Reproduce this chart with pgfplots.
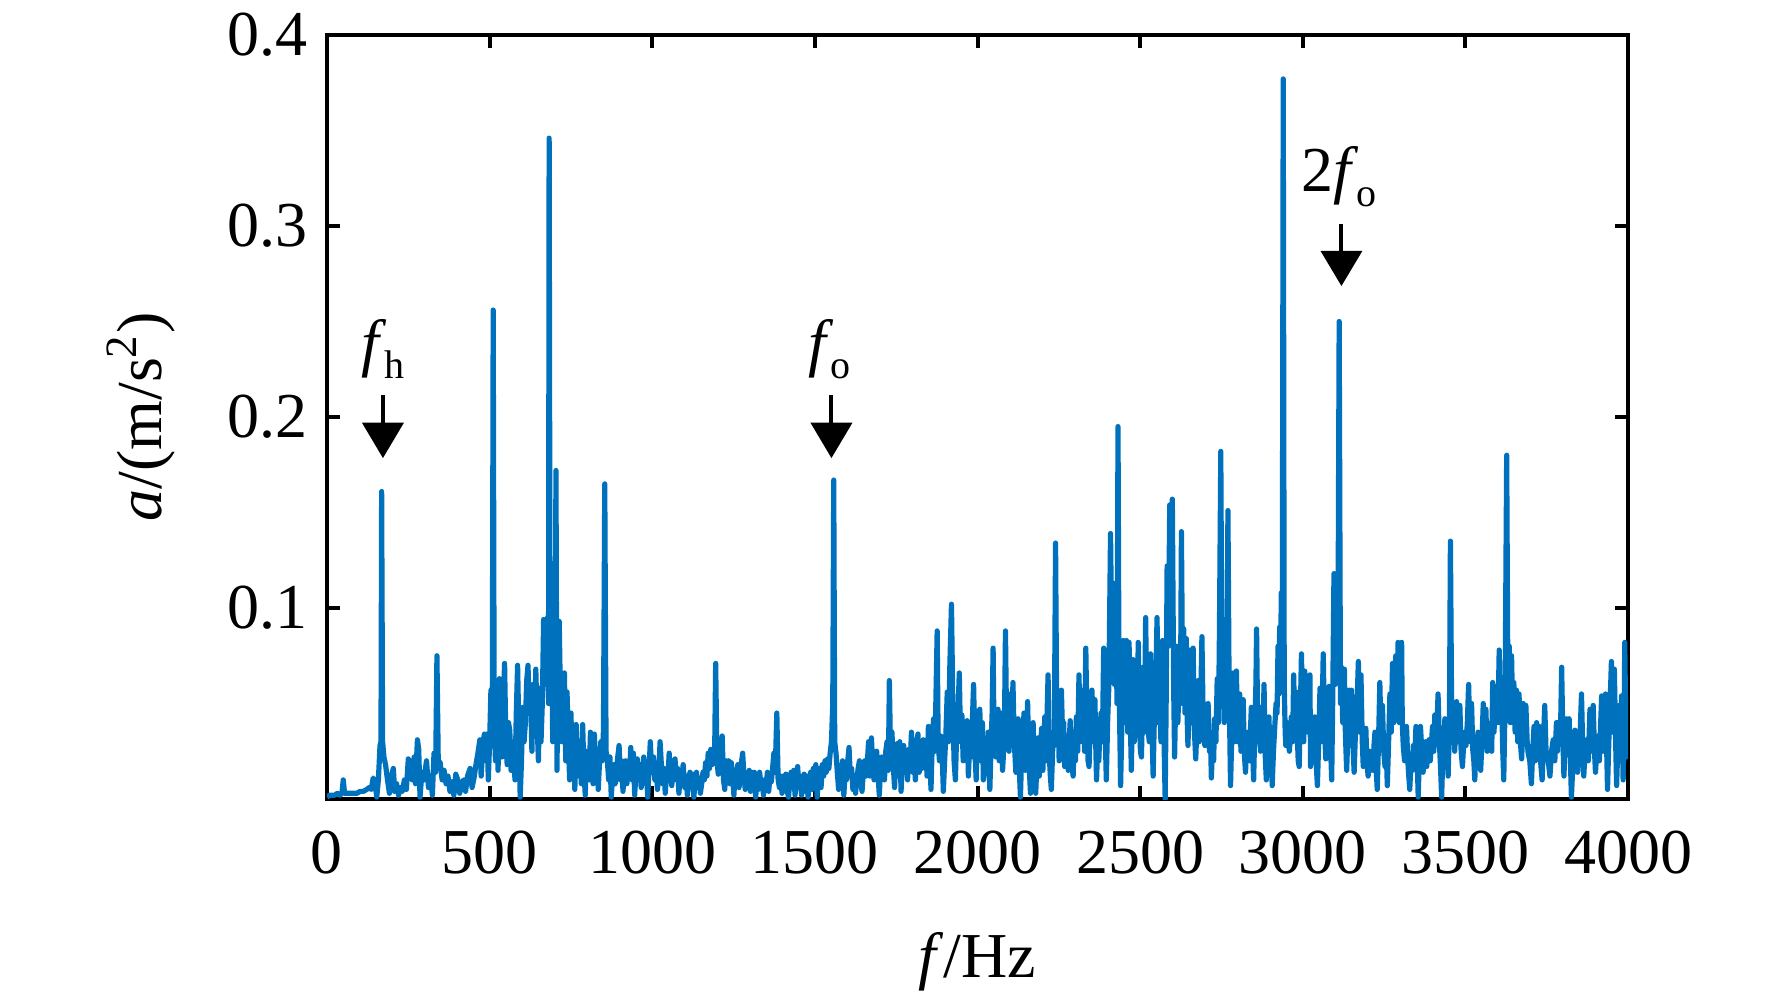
\documentclass[border=0pt]{standalone}
\usepackage{fontspec}
\setmainfont{Liberation Serif}
\usepackage{pgfplots}
\pgfplotsset{compat=1.18}
\definecolor{mblue}{RGB}{0,114,189}
\newcommand\sub[1]{\kern-0.6pt\raisebox{-3.6pt}{\fontsize{10}{11}\selectfont #1}}
\begin{document}
\begin{tikzpicture}
\useasboundingbox (-81.75pt,-49pt) rectangle (361.25pt,199.75pt);
\begin{axis}[
  scale only axis, width=325.25pt, height=191pt,
  xmin=0, xmax=4000, ymin=0, ymax=0.4,
  xtick={0,500,...,4000}, ytick={0.1,0.2,0.3,0.4},
  tick align=inside, xtick pos=both, ytick pos=both,
  major tick length=3.3pt,
  every tick/.style={black, line width=1pt},
  axis line style={line width=1pt},
  tick label style={font=\fontsize{16}{19}\selectfont},
  /pgf/number format/assume math mode=true,
  /pgf/number format/1000 sep={},
  scaled ticks=false,
  yticklabel style={/pgf/number format/fixed, /pgf/number format/precision=1, anchor=east, xshift=-1.4pt},
  xticklabel style={anchor=base, yshift=-18.5pt},
  label style={font=\fontsize{16}{19}\selectfont},
  xlabel={\textit{f}/Hz},
  xlabel style={at={(axis description cs:0.5,-0.233)}, anchor=base},
  ylabel={\textit{a}/(m/s\textsuperscript{2})},
  ylabel style={at={(axis description cs:-0.143,0.5)}, anchor=center},
]
\addplot[mblue, line width=1.3pt, line join=round] coordinates {
(0,0.001)(8,0.002)(16,0.002)(24,0.002)(32,0.003)(40,0.002)(46,0.003)(50,0.010)(54,0.003)(62,0.003)(72,0.003)(82,0.003)(92,0.003)(102,0.004)(112,0.004)(122,0.005)(130,0.006)(136,0.005)(142,0.011)(148,0.008)(153,0.001)(158,0.010)(163,0.028)(166,0.030)(168,0.161)(171,0.030)(175,0.022)(180,0.018)(186,0.010)(192,0.003)(198,0.012)(204,0.016)(208,0.004)(214,0.008)(220,0.002)(226,0.006)(232,0.004)(238,0.010)(244,0.005)(250,0.021)(256,0.018)(262,0.010)(268,0.022)(272,0.008)(278,0.031)(282,0.026)(286,0.001)(292,0.014)(298,0.010)(306,0.020)(312,0.006)(318,0.012)(324,0.002)(329,0.024)(334,0.014)(338,0.075)(342,0.020)(348,0.019)(354,0.010)(360,0.015)(366,0.008)(372,0.012)(378,0.004)(384,0.009)(390,0.002)(396,0.013)(402,0.010)(408,0.003)(414,0.008)(420,0.010)(426,0.004)(432,0.012)(440,0.016)(446,0.006)(452,0.011)(458,0.018)(464,0.024)(470,0.031)(474,0.012)(480,0.030)(484,0.034)(488,0.020)(492,0.034)(496,0.010)(500,0.030)(504,0.057)(508,0.030)(511,0.256)(514,0.040)(518,0.020)(522,0.045)(526,0.015)(530,0.063)(534,0.040)(538,0.022)(542,0.050)(546,0.071)(550,0.030)(554,0.018)(558,0.040)(562,0.036)(566,0.015)(570,0.030)(574,0.022)(578,0.010)(582,0.045)(586,0.070)(590,0.035)(594,0.001)(598,0.020)(602,0.048)(606,0.030)(610,0.040)(614,0.062)(618,0.070)(622,0.045)(626,0.055)(630,0.025)(634,0.060)(638,0.037)(642,0.068)(646,0.040)(650,0.020)(654,0.058)(658,0.030)(662,0.050)(666,0.094)(670,0.060)(674,0.078)(678,0.095)(681,0.050)(683,0.346)(686,0.060)(690,0.094)(694,0.030)(698,0.085)(701,0.055)(704,0.172)(707,0.015)(710,0.060)(714,0.093)(718,0.050)(722,0.030)(726,0.040)(730,0.066)(734,0.020)(738,0.056)(742,0.030)(746,0.010)(750,0.045)(754,0.018)(758,0.030)(762,0.005)(766,0.039)(770,0.020)(774,0.012)(778,0.030)(782,0.008)(786,0.039)(790,0.015)(794,0.002)(798,0.025)(802,0.020)(806,0.010)(810,0.035)(814,0.020)(818,0.008)(822,0.034)(826,0.018)(830,0.022)(834,0.005)(838,0.020)(842,0.030)(846,0.020)(850,0.036)(854,0.165)(858,0.025)(862,0.020)(866,0.010)(870,0.022)(874,0.001)(878,0.012)(882,0.018)(886,0.008)(890,0.015)(894,0.022)(898,0.028)(902,0.010)(906,0.020)(910,0.004)(914,0.014)(918,0.020)(922,0.008)(926,0.018)(930,0.012)(934,0.027)(938,0.010)(942,0.024)(946,0.002)(950,0.014)(954,0.021)(958,0.010)(962,0.018)(966,0.006)(970,0.014)(974,0.022)(978,0.008)(982,0.016)(986,0.001)(990,0.015)(994,0.030)(998,0.014)
(1000,0.016)(1004,0.022)(1008,0.010)(1012,0.018)(1016,0.005)(1020,0.012)(1024,0.030)(1028,0.018)(1032,0.008)(1036,0.016)(1040,0.003)(1044,0.014)(1048,0.010)(1052,0.024)(1056,0.012)(1060,0.007)(1064,0.015)(1070,0.021)(1074,0.010)(1078,0.016)(1082,0.003)(1086,0.012)(1090,0.008)(1095,0.018)(1100,0.006)(1104,0.012)(1108,0.002)(1112,0.010)(1116,0.014)(1120,0.006)(1124,0.013)(1128,0.001)(1132,0.010)(1136,0.014)(1140,0.006)(1144,0.011)(1148,0.003)(1152,0.008)(1156,0.014)(1160,0.010)(1164,0.019)(1168,0.012)(1172,0.024)(1176,0.016)(1180,0.026)(1184,0.018)(1188,0.020)(1192,0.026)(1195,0.071)(1199,0.020)(1203,0.013)(1207,0.022)(1211,0.016)(1215,0.033)(1219,0.010)(1223,0.005)(1227,0.020)(1231,0.012)(1235,0.020)(1239,0.008)(1243,0.019)(1247,0.013)(1251,0.002)(1255,0.014)(1259,0.010)(1263,0.018)(1267,0.006)(1271,0.015)(1278,0.024)(1282,0.012)(1286,0.005)(1290,0.012)(1294,0.008)(1298,0.015)(1302,0.004)(1306,0.014)(1310,0.010)(1314,0.014)(1318,0.001)(1322,0.010)(1326,0.005)(1330,0.014)(1334,0.008)(1338,0.010)(1342,0.002)(1346,0.010)(1350,0.006)(1354,0.014)(1358,0.004)(1362,0.012)(1366,0.009)(1370,0.016)(1374,0.024)(1378,0.014)(1383,0.045)(1387,0.010)(1391,0.006)(1395,0.012)(1399,0.003)(1403,0.012)(1407,0.007)(1411,0.013)(1415,0.004)(1419,0.001)(1423,0.010)(1427,0.014)(1431,0.006)(1435,0.015)(1439,0.002)(1443,0.010)(1447,0.017)(1451,0.006)(1455,0.012)(1459,0.002)(1463,0.008)(1467,0.013)(1471,0.004)(1475,0.012)(1479,0.001)(1483,0.010)(1487,0.014)(1491,0.005)(1495,0.016)(1499,0.008)(1503,0.018)(1507,0.001)(1511,0.012)(1515,0.016)(1519,0.006)(1523,0.018)(1527,0.012)(1531,0.020)(1535,0.014)(1539,0.021)(1543,0.016)(1547,0.024)(1551,0.030)(1555,0.050)(1558,0.167)(1561,0.030)(1565,0.024)(1569,0.014)(1573,0.005)(1577,0.016)(1581,0.010)(1585,0.020)(1589,0.002)(1593,0.014)(1597,0.010)(1601,0.020)(1605,0.027)(1609,0.012)(1613,0.016)(1617,0.005)(1621,0.012)(1625,0.003)(1629,0.010)(1633,0.016)(1637,0.020)(1641,0.010)(1645,0.004)(1649,0.014)(1653,0.020)(1657,0.012)(1661,0.018)(1665,0.030)(1669,0.012)(1674,0.032)(1678,0.016)(1682,0.010)(1686,0.020)(1690,0.025)(1694,0.014)(1698,0.002)(1702,0.016)(1706,0.022)(1710,0.020)(1714,0.010)(1718,0.025)(1722,0.030)(1726,0.015)(1729,0.062)(1733,0.020)(1737,0.035)(1741,0.018)(1745,0.006)(1749,0.022)(1753,0.029)(1757,0.012)(1761,0.030)(1765,0.004)(1769,0.020)(1773,0.028)(1777,0.016)(1781,0.025)(1785,0.010)(1789,0.026)(1793,0.018)(1797,0.035)(1801,0.014)(1805,0.022)(1809,0.010)(1813,0.030)(1817,0.034)(1821,0.014)(1825,0.022)(1829,0.016)(1833,0.031)(1837,0.020)(1841,0.028)(1845,0.012)(1849,0.038)(1853,0.025)(1857,0.005)(1861,0.030)(1865,0.042)(1869,0.025)(1873,0.060)(1876,0.088)(1879,0.030)(1883,0.020)(1887,0.033)(1891,0.026)(1895,0.004)(1899,0.020)(1903,0.035)(1907,0.056)(1911,0.030)(1915,0.070)(1920,0.102)(1924,0.050)(1928,0.020)(1932,0.010)(1936,0.035)(1940,0.045)(1944,0.066)(1948,0.030)(1952,0.044)(1956,0.020)(1960,0.040)(1964,0.035)(1968,0.041)(1972,0.012)(1976,0.030)(1980,0.022)(1984,0.040)(1988,0.060)(1992,0.025)(1996,0.010)
(2000,0.046)(2004,0.020)(2007,0.047)(2011,0.025)(2015,0.040)(2018,0.010)(2022,0.015)(2026,0.030)(2030,0.022)(2033,0.035)(2038,0.005)(2042,0.030)(2045,0.045)(2048,0.079)(2051,0.030)(2053,0.047)(2057,0.022)(2060,0.035)(2063,0.047)(2067,0.020)(2070,0.040)(2074,0.045)(2077,0.015)(2079,0.021)(2083,0.040)(2086,0.088)(2090,0.030)(2094,0.055)(2097,0.025)(2101,0.055)(2105,0.030)(2109,0.061)(2113,0.030)(2118,0.014)(2121,0.030)(2125,0.042)(2128,0.018)(2132,0.001)(2136,0.025)(2140,0.035)(2143,0.045)(2147,0.015)(2151,0.030)(2154,0.051)(2158,0.020)(2163,0.003)(2167,0.025)(2171,0.040)(2175,0.015)(2179,0.003)(2183,0.020)(2186,0.032)(2190,0.012)(2194,0.025)(2197,0.037)(2201,0.015)(2204,0.030)(2207,0.043)(2211,0.020)(2214,0.045)(2217,0.065)(2220,0.025)(2224,0.012)(2227,0.005)(2230,0.020)(2233,0.035)(2236,0.028)(2240,0.134)(2244,0.030)(2248,0.055)(2251,0.020)(2255,0.040)(2258,0.057)(2262,0.030)(2265,0.040)(2268,0.017)(2272,0.025)(2275,0.033)(2279,0.015)(2282,0.030)(2285,0.041)(2289,0.020)(2294,0.012)(2297,0.030)(2301,0.020)(2304,0.043)(2308,0.025)(2312,0.065)(2316,0.030)(2320,0.045)(2325,0.057)(2329,0.025)(2333,0.079)(2337,0.035)(2340,0.020)(2343,0.017)(2347,0.040)(2352,0.057)(2356,0.030)(2361,0.052)(2364,0.025)(2366,0.010)(2370,0.030)(2373,0.020)(2376,0.035)(2380,0.045)(2384,0.030)(2388,0.079)(2392,0.040)(2396,0.010)(2400,0.040)(2404,0.060)(2409,0.139)(2413,0.080)(2417,0.113)(2421,0.060)(2425,0.104)(2429,0.050)(2432,0.195)(2435,0.064)(2438,0.030)(2440,0.007)(2444,0.040)(2448,0.083)(2452,0.040)(2455,0.060)(2458,0.083)(2462,0.035)(2466,0.082)(2470,0.040)(2473,0.015)(2476,0.045)(2478,0.073)(2482,0.030)(2486,0.050)(2489,0.072)(2492,0.035)(2494,0.082)(2498,0.040)(2501,0.025)(2504,0.022)(2507,0.045)(2509,0.069)(2513,0.035)(2517,0.095)(2521,0.040)(2524,0.038)(2528,0.030)(2532,0.076)(2536,0.040)(2540,0.012)(2544,0.045)(2548,0.060)(2552,0.095)(2556,0.040)(2560,0.050)(2564,0.030)(2569,0.083)(2573,0.035)(2577,0.000)(2580,0.050)(2583,0.122)(2587,0.080)(2591,0.154)(2595,0.090)(2599,0.157)(2603,0.060)(2606,0.022)(2609,0.050)(2612,0.080)(2616,0.040)(2620,0.063)(2624,0.050)(2627,0.140)(2631,0.050)(2634,0.089)(2638,0.045)(2642,0.084)(2645,0.040)(2647,0.028)(2651,0.050)(2655,0.078)(2659,0.040)(2663,0.079)(2667,0.035)(2671,0.021)(2675,0.040)(2678,0.062)(2682,0.030)(2686,0.050)(2690,0.085)(2694,0.040)(2699,0.028)(2703,0.040)(2706,0.030)(2709,0.050)(2713,0.025)(2716,0.035)(2719,0.011)(2723,0.030)(2726,0.020)(2729,0.042)(2733,0.030)(2737,0.063)(2741,0.040)(2744,0.090)(2748,0.182)(2752,0.050)(2755,0.094)(2759,0.040)(2762,0.094)(2766,0.050)(2770,0.151)(2773,0.073)(2776,0.030)(2778,0.007)(2782,0.035)(2786,0.066)(2790,0.030)(2793,0.045)(2796,0.067)(2800,0.030)(2803,0.040)(2806,0.055)(2810,0.025)(2813,0.035)(2817,0.052)(2820,0.025)(2824,0.014)(2828,0.030)(2832,0.035)(2836,0.020)(2839,0.035)(2842,0.048)(2846,0.025)(2849,0.010)(2853,0.040)(2856,0.060)(2858,0.089)(2862,0.030)(2866,0.043)(2870,0.025)(2873,0.048)(2877,0.030)(2881,0.060)(2884,0.025)(2888,0.010)(2892,0.030)(2896,0.043)(2900,0.020)(2903,0.030)(2906,0.007)(2910,0.025)(2914,0.038)(2918,0.050)(2921,0.045)(2924,0.080)(2927,0.055)(2929,0.090)(2932,0.070)(2934,0.108)(2937,0.080)(2940,0.377)(2943,0.060)(2946,0.035)(2948,0.028)(2952,0.040)(2955,0.031)(2959,0.025)(2962,0.035)(2965,0.043)(2969,0.030)(2972,0.065)(2976,0.035)(2980,0.056)(2984,0.030)(2986,0.020)(2989,0.017)(2992,0.040)(2996,0.076)
(3000,0.040)(3003,0.030)(3006,0.067)(3010,0.035)(3013,0.045)(3016,0.064)(3020,0.040)(3022,0.065)(3024,0.017)(3027,0.030)(3030,0.021)(3034,0.035)(3037,0.043)(3041,0.020)(3045,0.007)(3049,0.030)(3053,0.058)(3057,0.030)(3060,0.050)(3063,0.076)(3067,0.035)(3071,0.021)(3075,0.040)(3078,0.030)(3081,0.059)(3085,0.030)(3089,0.010)(3092,0.050)(3096,0.118)(3100,0.060)(3104,0.118)(3108,0.070)(3112,0.250)(3116,0.050)(3119,0.069)(3123,0.040)(3128,0.068)(3131,0.035)(3135,0.015)(3139,0.035)(3143,0.057)(3146,0.030)(3150,0.057)(3154,0.030)(3158,0.014)(3162,0.035)(3167,0.050)(3171,0.072)(3175,0.035)(3179,0.065)(3183,0.030)(3186,0.017)(3190,0.025)(3194,0.037)(3197,0.020)(3201,0.012)(3205,0.025)(3208,0.015)(3212,0.024)(3216,0.015)(3219,0.028)(3222,0.035)(3226,0.015)(3229,0.005)(3233,0.030)(3237,0.061)(3241,0.030)(3245,0.049)(3249,0.025)(3253,0.017)(3256,0.030)(3260,0.007)(3264,0.030)(3268,0.055)(3272,0.035)(3276,0.071)(3280,0.040)(3283,0.055)(3286,0.075)(3290,0.045)(3293,0.082)(3297,0.040)(3300,0.060)(3304,0.082)(3306,0.040)(3309,0.028)(3313,0.020)(3316,0.030)(3319,0.038)(3323,0.020)(3326,0.012)(3329,0.005)(3333,0.020)(3337,0.015)(3340,0.028)(3344,0.020)(3348,0.038)(3352,0.020)(3355,0.001)(3359,0.025)(3362,0.038)(3366,0.025)(3370,0.014)(3374,0.025)(3378,0.030)(3381,0.017)(3385,0.025)(3388,0.031)(3392,0.020)(3396,0.030)(3399,0.038)(3403,0.025)(3406,0.044)(3410,0.030)(3413,0.040)(3416,0.055)(3420,0.030)(3424,0.015)(3427,0.001)(3431,0.025)(3434,0.030)(3437,0.042)(3441,0.025)(3444,0.030)(3447,0.012)(3451,0.040)(3454,0.135)(3458,0.040)(3463,0.049)(3467,0.025)(3470,0.035)(3473,0.051)(3477,0.030)(3480,0.040)(3483,0.049)(3487,0.025)(3491,0.017)(3495,0.030)(3498,0.035)(3502,0.028)(3506,0.040)(3510,0.060)(3514,0.030)(3517,0.040)(3519,0.050)(3523,0.025)(3526,0.020)(3529,0.010)(3533,0.030)(3536,0.025)(3539,0.035)(3543,0.020)(3547,0.015)(3551,0.030)(3555,0.050)(3559,0.030)(3563,0.047)(3567,0.025)(3571,0.030)(3575,0.035)(3579,0.040)(3581,0.025)(3584,0.061)(3588,0.035)(3591,0.047)(3594,0.040)(3596,0.059)(3600,0.040)(3604,0.078)(3608,0.040)(3611,0.055)(3615,0.025)(3618,0.010)(3622,0.050)(3627,0.180)(3631,0.050)(3635,0.080)(3638,0.040)(3642,0.075)(3646,0.040)(3649,0.061)(3653,0.035)(3657,0.057)(3661,0.030)(3665,0.055)(3669,0.030)(3673,0.021)(3676,0.035)(3678,0.050)(3682,0.030)(3686,0.049)(3690,0.030)(3693,0.024)(3698,0.020)(3703,0.008)(3707,0.025)(3711,0.038)(3715,0.020)(3719,0.040)(3723,0.025)(3727,0.038)(3731,0.020)(3736,0.010)(3740,0.030)(3744,0.049)(3748,0.025)(3752,0.024)(3756,0.018)(3760,0.012)(3765,0.025)(3770,0.031)(3775,0.020)(3780,0.040)(3783,0.025)(3785,0.040)(3790,0.030)(3793,0.040)(3796,0.069)(3800,0.030)(3803,0.012)(3807,0.030)(3811,0.042)(3815,0.025)(3819,0.042)(3823,0.020)(3826,0.001)(3831,0.020)(3837,0.036)(3841,0.020)(3845,0.014)(3849,0.025)(3853,0.035)(3857,0.055)(3861,0.025)(3864,0.012)(3868,0.025)(3873,0.031)(3878,0.020)(3883,0.047)(3887,0.025)(3890,0.035)(3893,0.049)(3897,0.025)(3900,0.014)(3904,0.025)(3908,0.033)(3912,0.020)(3915,0.035)(3919,0.054)(3923,0.025)(3927,0.035)(3931,0.055)(3934,0.030)(3937,0.005)(3941,0.030)(3945,0.050)(3949,0.072)(3953,0.035)(3958,0.068)(3962,0.030)(3965,0.007)(3969,0.030)(3973,0.049)(3977,0.025)(3980,0.054)(3983,0.030)(3985,0.010)(3988,0.040)(3990,0.082)(3993,0.040)(3995,0.022)(3998,0.040)(4000,0.030)
};
% annotations
\node[anchor=base, font=\fontsize{16}{19}\selectfont] at (axis cs:172,0.2277) {\textit{f}\sub{h}};
\draw[line width=1pt] (axis cs:172,0.2115) -- (axis cs:172,0.197);
\fill (axis cs:107.5,0.197) -- (axis cs:236.5,0.197) -- (axis cs:172,0.1785) -- cycle;
\node[anchor=base, font=\fontsize{16}{19}\selectfont] at (axis cs:1545,0.2277) {\textit{f}\sub{o}};
\draw[line width=1pt] (axis cs:1551,0.2115) -- (axis cs:1551,0.197);
\fill (axis cs:1486.5,0.197) -- (axis cs:1615.5,0.197) -- (axis cs:1551,0.1785) -- cycle;
\node[anchor=base, font=\fontsize{16}{19}\selectfont] at (axis cs:3111,0.318) {2\textit{f}\sub{o}};
\draw[line width=1pt] (axis cs:3119,0.301) -- (axis cs:3119,0.287);
\fill (axis cs:3054.5,0.287) -- (axis cs:3183.5,0.287) -- (axis cs:3119,0.2686) -- cycle;
\end{axis}
\end{tikzpicture}
\end{document}
